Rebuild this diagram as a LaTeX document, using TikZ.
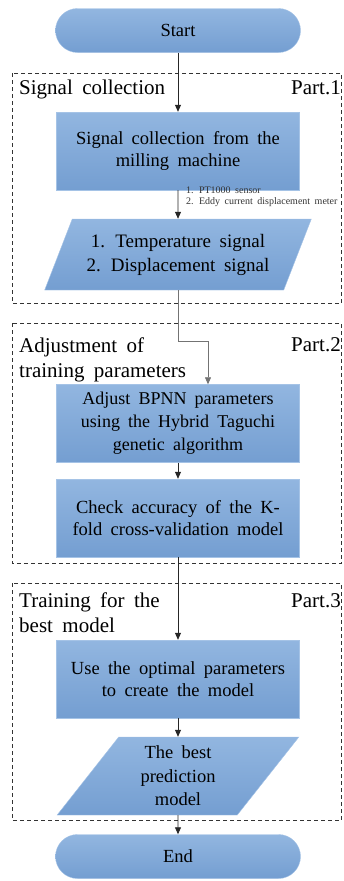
\documentclass[tikz,border=0pt]{standalone}
\usepackage{fontspec}
\setmainfont[WordSpace=1.8]{Liberation Serif}
\usetikzlibrary{arrows.meta,shapes.geometric}
\definecolor{boxtop}{RGB}{146,182,224}
\definecolor{boxbot}{RGB}{116,158,209}
\definecolor{boxedge}{RGB}{165,195,230}
\begin{document}
\begin{tikzpicture}[
  x=1pt, y=-1pt,
  >={Triangle[length=7pt,width=6pt]},
  block/.style={rectangle, draw=boxedge, top color=boxtop, bottom color=boxbot,
    minimum width=243pt, minimum height=78pt, align=center, inner sep=2pt,
    font=\fontsize{18.5}{22.5}\selectfont},
  terminal/.style={block, rounded corners=22pt, minimum width=245pt, minimum height=44pt},
  datum/.style={trapezium, trapezium left angle=60, trapezium right angle=120,
    trapezium stretches=true, draw=boxedge, top color=boxtop, bottom color=boxbot,
    align=center, inner sep=0pt},
  part/.style={draw=black!80, dash pattern=on 4pt off 3pt, semithick},
  partlabel/.style={font=\fontsize{21}{25}\selectfont, align=left, inner sep=0pt},
  flow/.style={->, thick, black!85}
]
\useasboundingbox (0,0) rectangle (343,881);

% Dashed parts
\draw[part] (12,73) rectangle (341.5,303);
\draw[part] (12,323) rectangle (341.5,563);
\draw[part] (12,583) rectangle (341.5,820);

% Part names
\node[partlabel, anchor=base west] (collectname) at (19,94) {Signal collection};
\node[partlabel, anchor=base east] (collecttag) at (341,94) {Part.1};
\node[partlabel, anchor=north west] (adjustname) at (19,337.5) {Adjustment of\\training parameters};
\node[partlabel, anchor=base east] (adjusttag) at (341,351) {Part.2};
\node[partlabel, anchor=north west] (trainname) at (19,592.5) {Training for the\\best model};
\node[partlabel, anchor=base east] (traintag) at (341,607) {Part.3};

% Flow
\node[terminal] (start) at (178,30.5) {Start};
\node[block] (collect) at (178,151) {Signal collection from the\\milling machine};
\node[datum, minimum width=267pt, minimum height=71pt, font=\fontsize{19}{24}\selectfont]
  (signals) at (178,254.5) {1. Temperature signal\\2. Displacement signal};
\node[block, font=\fontsize{18}{23}\selectfont] (adjust) at (178,423.5)
  {Adjust BPNN parameters\\using the Hybrid Taguchi\\genetic algorithm};
\node[block] (check) at (178,518) {Check accuracy of the K-\\fold cross-validation model};
\node[block] (optimal) at (178,679) {Use the optimal parameters\\to create the model};
\node[datum, minimum width=242pt, minimum height=78pt, trapezium left angle=57,
  trapezium right angle=123, font=\fontsize{18.5}{23.5}\selectfont]
  (best) at (178,776) {The best\\prediction\\model};
\node[terminal] (finish) at (178,856.5) {End};

% Sensor note
\node[anchor=north west, align=left, inner sep=0pt, text=black!80,
  font=\fontsize{10}{11}\selectfont] (sensors) at (186,187)
  {1. PT1000 sensor\\2. Eddy current displacement meter};

% Connectors
\draw[flow] (start) -- (collect);
\draw[flow] (collect) -- (signals);
\draw[->, black!55, semithick] (signals.south) -- ++(0,51) -| ([xshift=30pt]adjust.north);
\draw[flow] (adjust) -- (check);
\draw[flow] (check) -- (optimal);
\draw[flow] (optimal) -- (best);
\draw[flow] (best) -- (finish);

\end{tikzpicture}
\end{document}
